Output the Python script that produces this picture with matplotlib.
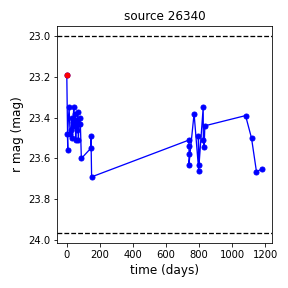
import matplotlib
matplotlib.use("Agg")
import matplotlib.pyplot as plt

days = [0, 6, 4, 14, 20, 26, 30, 34, 38, 42, 46, 50, 54, 58, 62, 66, 70, 74, 78, 82, 88,
        145, 146, 150,
        737, 738, 739, 738, 769, 797, 795, 799, 824, 825, 830, 834,
        1080, 1116, 1146, 1180]
mags = [23.19, 23.56, 23.48, 23.35, 23.48, 23.46, 23.40, 23.50, 23.42, 23.35, 23.44, 23.38, 23.51, 23.41, 23.46, 23.37, 23.51, 23.43, 23.40, 23.43, 23.60,
        23.55, 23.49, 23.69,
        23.51, 23.54, 23.58, 23.63, 23.38, 23.66, 23.49, 23.63, 23.35, 23.51, 23.545, 23.44,
        23.39, 23.50, 23.665, 23.65]
upper_line = 23.0
lower_line = 23.965

fig = plt.figure(figsize=(4, 4), dpi=72)
ax = fig.add_axes([0.198, 0.156, 0.746, 0.754])
ax.plot(days, mags, 'b-o', markersize=5, linewidth=1.3)
ax.plot(days[0], mags[0], 'ro', markersize=5)
ax.axhline(upper_line, color='k', linestyle='--', linewidth=1.3)
ax.axhline(lower_line, color='k', linestyle='--', linewidth=1.3)
ax.set_xlim(-59, 1239)
ax.set_ylim(24.014, 22.951)
ax.set_xticks([0, 200, 400, 600, 800, 1000, 1200])
ax.set_yticks([23.0, 23.2, 23.4, 23.6, 23.8, 24.0])
ax.set_title("source 26340", fontsize=12)
ax.set_xlabel("time (days)", fontsize=12)
ax.set_ylabel("r mag (mag)", fontsize=12)
ax.tick_params(labelsize=10)
fig.savefig("out.png", dpi=72)
